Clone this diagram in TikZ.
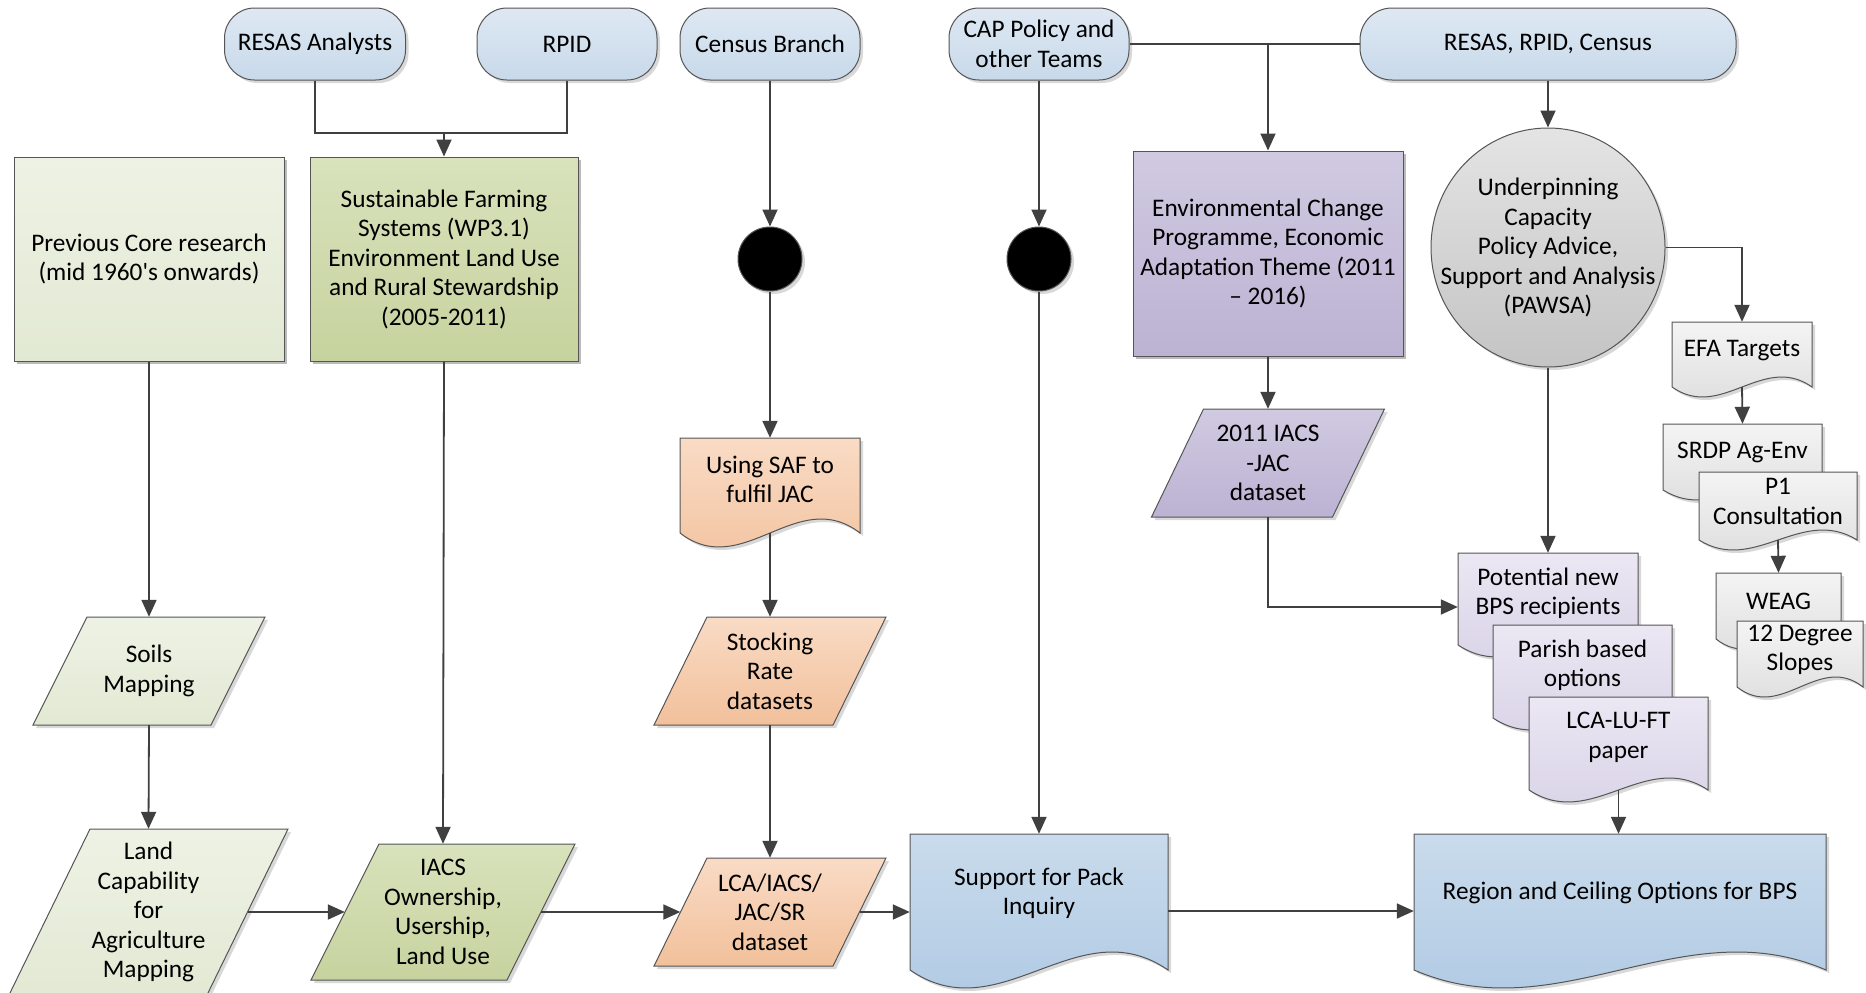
\documentclass[tikz,border=0pt]{standalone}
\usepackage{fontspec}
\setmainfont{Carlito}
\usetikzlibrary{shapes.geometric,shadows,arrows.meta,calc}
\definecolor{linec}{RGB}{64,64,64}
\definecolor{edgec}{RGB}{85,85,85}
\definecolor{pillt}{RGB}{222,232,243}\definecolor{pillb}{RGB}{200,217,234}
\definecolor{pgt}{RGB}{238,242,229}\definecolor{pgb}{RGB}{226,233,211}
\definecolor{ogt}{RGB}{216,226,188}\definecolor{ogb}{RGB}{198,211,158}
\definecolor{ort}{RGB}{249,219,197}\definecolor{orb}{RGB}{242,192,155}
\definecolor{put}{RGB}{208,202,225}\definecolor{pub}{RGB}{188,178,211}
\definecolor{lpt}{RGB}{235,231,243}\definecolor{lpb}{RGB}{214,208,229}
\definecolor{grt}{RGB}{228,228,228}\definecolor{grb}{RGB}{196,196,196}
\definecolor{lgt}{RGB}{244,244,244}\definecolor{lgb}{RGB}{218,218,218}
\definecolor{blt}{RGB}{201,219,236}\definecolor{blb}{RGB}{172,199,226}
\newcommand\diagfont{\fontsize{25.3}{29.5}\selectfont}
\tikzset{
  txt/.style={align=center, inner sep=1pt, font=\diagfont, text=black},
  line/.style={draw=linec, line width=1.8pt},
  arr/.style={line, -{Triangle[length=17pt,width=15pt]}},
  shp/.style={draw=edgec, line width=1pt, drop shadow={shadow xshift=3pt, shadow yshift=-3pt, fill=black!60, opacity=0.25}},
  pill/.style={shp, txt, rectangle, rounded corners=30pt, top color=pillt, bottom color=pillb, minimum height=72pt},
  boxn/.style={shp, txt, rectangle, inner sep=2pt},
  fpg/.style={shp, top color=pgt, bottom color=pgb},
  fog/.style={shp, top color=ogt, bottom color=ogb},
  for/.style={shp, top color=ort, bottom color=orb},
  fpu/.style={shp, top color=put, bottom color=pub},
  flp/.style={shp, top color=lpt, bottom color=lpb},
  flg/.style={shp, top color=lgt, bottom color=lgb},
  fbl/.style={shp, top color=blt, bottom color=blb},
  blackdot/.style={circle, fill=black, draw=edgec, line width=1pt, minimum size=64pt, inner sep=0pt, drop shadow={shadow xshift=3pt, shadow yshift=-3pt, fill=black!60, opacity=0.25}},
}
% document shape: name, x0, y0, x1, y1(side bottom), amplitude, style, text
\newcommand\docnode[8]{%
  \pgfmathsetmacro\dkW{#4-#2}%
  \pgfmathsetmacro\dkA{#4-0.35*\dkW}%
  \pgfmathsetmacro\dkB{#2+0.35*\dkW}%
  \pgfmathsetmacro\dkU{#5-3.46*#6}%
  \pgfmathsetmacro\dkD{#5+3.46*#6}%
  \pgfmathsetmacro\dkT{(#3+#5)/2-0.065*(#5-#3)}%
  \path[#7] (#2,#3) -- (#4,#3) -- (#4,#5) .. controls (\dkA,\dkU) and (\dkB,\dkD) .. (#2,#5) -- cycle;
  \node[inner sep=0pt, minimum width={(#4-#2)*1pt}, minimum height={(#5-#3)*1pt}] (#1) at ({(#2+#4)/2},{(#3+#5)/2}) {};
  \node[txt] (#1t) at ({(#2+#4)/2},\dkT) {#8};
}
% parallelogram: name, cx, cy, w, h, slant, style, text
\newcommand\paranode[8]{%
  \path[#7] ({#2-#4/2+#6/2},{#3-#5/2}) -- ({#2+#4/2+#6/2},{#3-#5/2}) -- ({#2+#4/2-#6/2},{#3+#5/2}) -- ({#2-#4/2-#6/2},{#3+#5/2}) -- cycle;
  \node[txt, minimum width=#4pt, minimum height=#5pt] (#1) at (#2,#3) {#8};
}
\begin{document}
\begin{tikzpicture}[x=1pt,y=-1pt]
\useasboundingbox[fill=white] (0,0) rectangle (1866,993);
\clip (0,0) rectangle (1866,993);
% top pills
\node[pill, minimum width=181pt] (p1) at (315,44) {RESAS Analysts};
\node[pill, minimum width=180pt] (p2) at (567,44) {RPID};
\node[pill, minimum width=180pt] (p3) at (770,44) {Census Branch};
\node[pill, minimum width=180pt] (p4) at (1039,44) {CAP Policy and\\other Teams};
\node[pill, minimum width=376pt, rounded corners=32pt] (p5) at (1548,44) {RESAS, RPID, Census};
\coordinate (j1) at (444,133);
% main boxes
\node[boxn, fpg, minimum width=270pt, minimum height=204pt] (prev) at (149,259) {Previous Core research\\(mid 1960\textquotesingle s onwards)};
\node[boxn, fog, minimum width=268pt, minimum height=204pt] (sfs) at (444,259) {Sustainable Farming\\Systems (WP3.1)\\Environment Land Use\\and Rural Stewardship\\(2005-2011)};
\node[boxn, fpu, minimum width=270pt, minimum height=205pt] (env) at (1268,253.5) {Environmental Change\\Programme, Economic\\Adaptation Theme (2011\\\textendash{} 2016)};
\node[blackdot] (c1) at (770,259) {};
\node[blackdot] (c2) at (1039,259) {};
\node[ellipse, shp, top color=grt, bottom color=grb, inner sep=0pt, minimum width=234pt, minimum height=239pt] (ell) at (1548,247.5) {};
\node[txt] (ellt) at (ell.center) {Underpinning\\Capacity\\Policy Advice,\\Support and Analysis\\(PAWSA)};
% left column parallelograms
\paranode{soils}{149}{671}{178}{108}{54}{fpg}{Soils\\Mapping}
\paranode{lc}{148.5}{912}{198}{166}{81}{fpg}{Land\\Capability\\for\\Agriculture\\Mapping}
\paranode{iacs}{443}{912}{196}{136}{68}{fog}{IACS\\Ownership,\\Usership,\\Land Use}
% census column
\docnode{saf}{680}{438}{860}{533}{14}{for}{Using SAF to\\fulfil JAC}
\paranode{sr}{770}{671}{179}{108}{53}{for}{Stocking\\Rate\\datasets}
\paranode{lca}{770}{912}{179}{108}{53}{for}{LCA/IACS/\\JAC/SR\\dataset}
% env column
\paranode{i11}{1268}{463}{181}{108}{52}{fpu}{2011 IACS\\-JAC\\dataset}
% bottom documents
\docnode{sp}{910}{834}{1168}{970}{18}{fbl}{Support for Pack\\Inquiry}
\docnode{reg}{1414}{834}{1826}{970}{18}{fbl}{Region and Ceiling Options for BPS}
% purple documents
\docnode{pot}{1458}{553}{1638}{645}{12}{flp}{Potential new\\BPS recipients}
\docnode{par}{1493}{625}{1672}{718}{12}{flp}{Parish based\\options}
\docnode{lcl}{1529}{697}{1708}{790}{12}{flp}{LCA-LU-FT\\paper}
% grey documents
\docnode{efa}{1672}{322}{1812}{387}{10}{flg}{EFA Targets}
\docnode{srdp}{1663}{424}{1822}{490}{10}{flg}{SRDP Ag-Env}
\docnode{p1c}{1699}{472}{1857}{540}{10}{flg}{P1\\Consultation}
\docnode{weag}{1716}{573}{1841}{639}{10}{flg}{WEAG}
\docnode{deg}{1737}{621}{1863}{687}{10}{flg}{12 Degree\\Slopes}
% connectors
\draw[line] (p1.south) |- (j1) -| (p2.south);
\draw[arr] (j1) -- (sfs.north);
\draw[arr] (prev.south) -- (soils.north);
\draw[arr] (soils.south) -- (lc.north);
\draw[arr] (sfs.south) -- (iacs.north);
\draw[arr] (lc.east) -- (iacs.west);
\draw[arr] (iacs.east) -- (lca.west);
\draw[arr] (lca.east) -- (lca.east -| sp.west);
\draw[arr] (p3.south) -- (c1.north);
\draw[arr] (c1.south) -- (saf.north);
\draw[arr] (saf.south) -- (sr.north);
\draw[arr] (sr.south) -- (lca.north);
\draw[arr] (p4.south) -- (c2.north);
\draw[arr] (c2.south) -- (sp.north);
\draw[line] (p4.east) -- (p5.west);
\draw[arr] (p4.east -| env.north) -- (env.north);
\draw[arr] (env.south) -- (i11.north);
\draw[arr] (i11.south) |- ([yshift=-8pt]pot.west);
\draw[arr] (p5.south) -- (ell.north);
\draw[arr] (ell.south) -- (pot.north);
\draw[arr] (ell.east) -| (efa.north);
\draw[arr] (efa.south) -- (srdp.north);
\draw[arr] (p1c.south) -- (weag.north);
\draw[arr] (lcl.south) -- (lcl.south |- reg.north);
\draw[arr] ([yshift=-9pt]sp.east) -- ([yshift=-9pt]sp.east -| reg.west);
\end{tikzpicture}
\end{document}
